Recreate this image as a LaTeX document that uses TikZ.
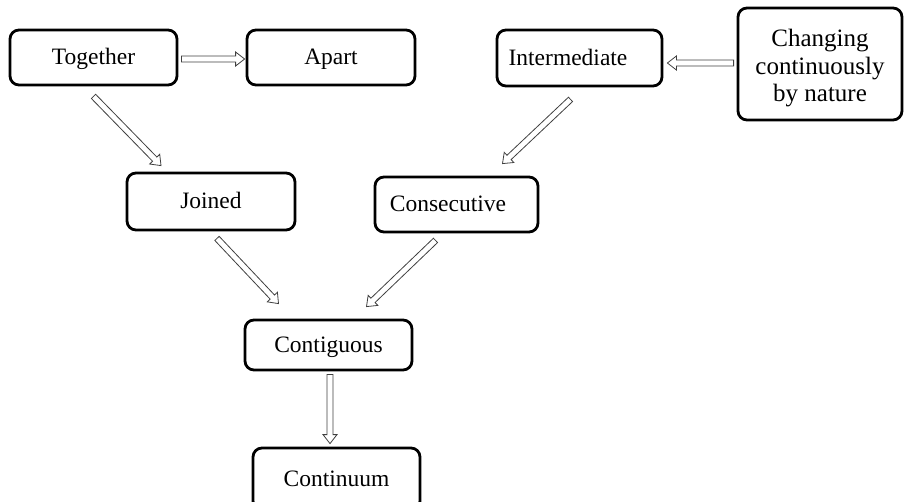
\documentclass[tikz,border=0pt]{standalone}
\usepackage{fontspec}
\setmainfont{Liberation Serif}
\usetikzlibrary{calc}
\tikzset{
  box/.style={draw=black, line width=2.8pt, rounded corners=9pt, rectangle,
    inner sep=0pt, align=center, font=\fontsize{23.5}{27}\selectfont},
  oneline/.style={text height=18pt, text depth=3pt},
  harr/.style={draw=black!75, line width=0.8pt, fill=white, line join=miter}
}
\newcommand\blockarrow[2]{%
  \coordinate (ba-A) at (#1);
  \coordinate (ba-B) at (#2);
  \coordinate (ba-C) at ($(ba-B)!9pt!(ba-A)$);
  \draw[harr] ($(ba-A)!3pt!90:(ba-B)$) -- ($(ba-C)!3pt!90:(ba-B)$) -- ($(ba-C)!7pt!90:(ba-B)$) -- (ba-B)
    -- ($(ba-C)!7pt!-90:(ba-B)$) -- ($(ba-C)!3pt!-90:(ba-B)$) -- ($(ba-A)!3pt!-90:(ba-B)$) -- cycle;
}
\begin{document}
\begin{tikzpicture}[x=1pt,y=-1pt]
\useasboundingbox (0,0) rectangle (904,502);
\clip (0,0) rectangle (904,502);
\node[box, oneline, minimum width=167pt, minimum height=55pt] (tog) at (93.5,57.5) {Together};
\node[box, oneline, minimum width=168pt, minimum height=55pt] (apart) at (331,57.5) {Apart};
\node[box, oneline, minimum width=165pt, minimum height=56pt] (inter) at (579.5,58) {Intermediate\hspace*{23pt}};
\node[box, minimum width=164pt, minimum height=112pt, font=\fontsize{25}{27.5}\selectfont] (chg) at (820,64)
  {\begin{tabular}{@{}c@{}}\rule{0pt}{29pt}Changing\\continuously\\by nature\end{tabular}};
\node[box, oneline, minimum width=168pt, minimum height=57pt] (joined) at (211,201.5) {Joined};
\node[box, oneline, minimum width=163pt, minimum height=55pt] (consec) at (456.5,204.5) {Consecutive\hspace*{17pt}};
\node[box, oneline, minimum width=167pt, minimum height=50pt] (contig) at (328.5,345) {Contiguous};
\node[box, oneline, minimum width=167pt, minimum height=62pt] (cont) at (336.5,479) {Continuum};

\coordinate (a1s) at ($(tog.east)+(3,1.5)$);
\coordinate (a1e) at ($(apart.west)+(-1,1.5)$);
\coordinate (a2s) at ($(chg.west)+(-3,-1)$);
\coordinate (a2e) at ($(inter.east)+(4,5)$);
\coordinate (a3s) at ($(inter.south)+(-9,12)$);
\coordinate (a3e) at ($(consec.north)+(46,-12)$);
\coordinate (a4s) at ($(tog.south)+(0,10)$);
\coordinate (a4e) at ($(joined.north)+(-50,-6)$);
\coordinate (a5s) at ($(joined.south)+(6,7)$);
\coordinate (a5e) at ($(contig.north)+(-50,-15)$);
\coordinate (a6s) at ($(consec.south)+(-21,7)$);
\coordinate (a6e) at ($(contig.north)+(38,-12)$);
\coordinate (a7s) at ($(contig.south)+(1.5,3)$);
\coordinate (a7e) at ($(cont.north)+(-6.5,-3)$);

\blockarrow{a1s}{a1e}
\blockarrow{a2s}{a2e}
\blockarrow{a3s}{a3e}
\blockarrow{a4s}{a4e}
\blockarrow{a5s}{a5e}
\blockarrow{a6s}{a6e}
\blockarrow{a7s}{a7e}
\end{tikzpicture}
\end{document}
